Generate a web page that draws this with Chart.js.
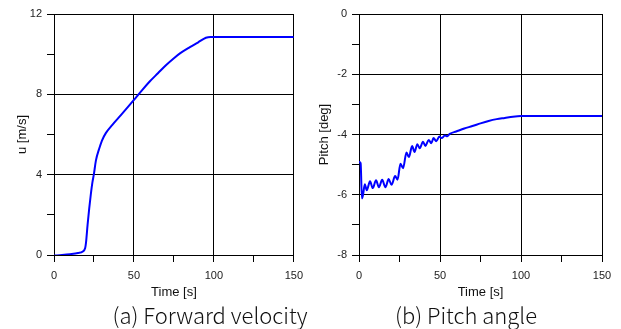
<!DOCTYPE html>
<html>
<head>
<meta charset="utf-8">
<script src="https://cdn.jsdelivr.net/npm/chart.js@4.4.0/dist/chart.umd.min.js"></script>
<style>
body{margin:0;background:#fff;width:621px;height:329px;overflow:hidden;position:relative;}
.box{position:absolute;top:0;height:300px;}
.cap{position:absolute;top:300px;font-family:"Noto Sans CJK KR",sans-serif;font-weight:300;font-size:22px;line-height:28px;color:#111;white-space:nowrap;transform:translateX(-50%);}
</style>
</head>
<body>
<div class="box" style="left:0;width:310px"><canvas id="velChart" width="310" height="300"></canvas></div>
<div class="box" style="left:310px;width:311px"><canvas id="pitchChart" width="311" height="300"></canvas></div>
<div class="cap" style="left:210px">(a) Forward velocity</div>
<div class="cap" style="left:466px">(b) Pitch angle</div>
<script>
// forward velocity u [m/s] vs time
var velTime = [0, 5, 10, 15, 18, 19.5, 20, 21, 22, 23, 24, 25, 26.2, 28.3, 30, 32.4, 36.5, 41.7, 50, 55, 60, 65, 70, 75, 79, 85, 90, 95, 98, 150];
var velU = [-0.03, 0.0, 0.04, 0.1, 0.18, 0.35, 0.6, 1.5, 2.3, 3.0, 3.6, 4.05, 4.7, 5.3, 5.7, 6.07, 6.48, 6.95, 7.72, 8.2, 8.65, 9.05, 9.45, 9.8, 10.05, 10.35, 10.58, 10.82, 10.86, 10.86];

// pitch angle [deg] vs time
var pitchTime = [0, 1, 1.8, 2.5, 3.6, 4.8, 6.8, 8.5, 10.5, 12.3, 14.3, 16.3, 18.3, 20.1, 22.3, 23.8, 25.6, 27.2, 29.3, 30.8, 32.8, 34.3, 36, 37.5, 39.5, 41, 43, 44.6, 46, 47.7, 49.6, 51, 53, 54.5, 56, 60, 65, 70, 75, 80, 85, 90, 95, 100, 150];
var pitchDeg = [-4.9, -4.95, -6.12, -6.0, -5.65, -5.85, -5.55, -5.78, -5.52, -5.75, -5.5, -5.75, -5.48, -5.67, -5.38, -5.5, -4.97, -5.12, -4.6, -4.75, -4.38, -4.58, -4.32, -4.46, -4.24, -4.38, -4.18, -4.29, -4.12, -4.22, -4.07, -4.12, -4.03, -4.06, -3.98, -3.9, -3.8, -3.72, -3.63, -3.55, -3.49, -3.45, -3.41, -3.39, -3.39];

var timeTicks = [0, 50, 100, 150];

function pairUp(xs, ys) {
  var out = [];
  for (var i = 0; i < xs.length; i++) out.push({x: xs[i], y: ys[i]});
  return out;
}

function makeChart(id, xs, ys, yMin, yMax, yStep, yEvery, yTitle, yWidth, padRight, titlePad) {
  var ctx = document.getElementById(id).getContext('2d');
  var tickFont = {family: '"Liberation Sans", Arial, sans-serif', size: 11};
  var titleFont = {family: '"Liberation Sans", Arial, sans-serif', size: 13};
  return new Chart(ctx, {
    type: 'line',
    data: {
      datasets: [{
        data: pairUp(xs, ys),
        borderColor: '#0000ff',
        borderWidth: 2,
        pointRadius: 0,
        cubicInterpolationMode: 'monotone',
        fill: false
      }]
    },
    options: {
      responsive: false,
      animation: false,
      layout: {padding: {left: 0, right: padRight, top: 14, bottom: 0}},
      plugins: {legend: {display: false}, tooltip: {enabled: false}},
      scales: {
        x: {
          type: 'linear',
          min: 0, max: 150,
          afterFit: function(s) { s.height = 45; },
          ticks: {
            stepSize: 25, autoSkip: false, maxRotation: 0, padding: 7,
            color: '#222', font: tickFont,
            callback: function(v) { return timeTicks.indexOf(v) >= 0 ? v : ''; }
          },
          grid: {
            tickLength: 7,
            color: function(c) { return c.tick && c.tick.value % 50 === 0 ? '#000' : 'rgba(0,0,0,0)'; },
            tickColor: '#000'
          },
          border: {color: '#000'},
          title: {display: true, text: 'Time [s]', color: '#111', font: titleFont, padding: {top: 1, bottom: 0}}
        },
        y: {
          min: yMin, max: yMax,
          afterFit: function(s) { s.width = yWidth; },
          ticks: {
            stepSize: yStep, autoSkip: false, padding: 5,
            color: '#222', font: tickFont,
            callback: function(v) { return Math.abs(v % yEvery) < 1e-9 ? v : ''; }
          },
          grid: {
            tickLength: 7,
            color: function(c) { return c.tick && Math.abs(c.tick.value % yEvery) < 1e-9 ? '#000' : 'rgba(0,0,0,0)'; },
            tickColor: '#000'
          },
          border: {color: '#000'},
          title: {display: true, text: yTitle, color: '#111', font: titleFont, padding: {top: titlePad, bottom: 0}}
        }
      }
    }
  });
}

makeChart('velChart', velTime, velU, 0, 12, 2, 4, 'u [m/s]', 54, 13, 15);
makeChart('pitchChart', pitchTime, pitchDeg, -8, 0, 1, 2, 'Pitch [deg]', 49, 19, 7);
</script>
</body>
</html>
